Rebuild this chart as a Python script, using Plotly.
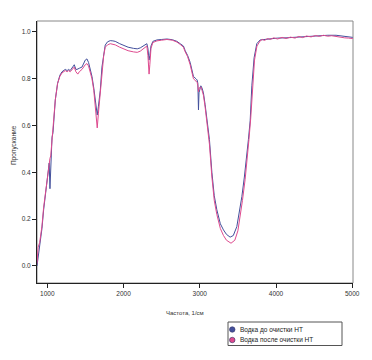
import plotly.graph_objects as go

# Wavenumber (1/cm) and transmittance values
wn_before = [865, 873, 900, 930, 952, 975, 996, 1017, 1025, 1035, 1045, 1062, 1075, 1083, 1105, 1135, 1165,
             1193, 1236, 1260, 1279, 1300, 1324, 1354, 1375, 1389, 1420, 1455, 1498, 1520, 1541, 1565,
             1586, 1610, 1629, 1645, 1655, 1670, 1695, 1717, 1740, 1760, 1790, 1826, 1860, 1891, 1950,
             1996, 2060, 2131, 2180, 2219, 2260, 2306, 2320, 2335, 2345, 2360, 2385, 2438, 2500, 2569,
             2640, 2700, 2743, 2786, 2809, 2840, 2874, 2917, 2950, 2965, 2975, 2983, 2990, 3014, 3030,
             3048, 3070, 3093, 3127, 3159, 3190, 3224, 3270, 3311, 3350, 3398, 3440, 3486, 3520, 3552,
             3585, 3617, 3638, 3661, 3683, 3713, 3748, 3792, 3850, 3923, 4020, 4132, 4250, 4350, 4460,
             4569, 4680, 4788, 4900, 5007]
t_before = [0.00, 0.02, 0.08, 0.16, 0.24, 0.30, 0.37, 0.42, 0.44, 0.33, 0.45, 0.55, 0.57, 0.62, 0.71, 0.78, 0.815,
            0.83, 0.84, 0.835, 0.84, 0.835, 0.845, 0.86, 0.84, 0.84, 0.845, 0.85, 0.88, 0.885, 0.87, 0.84,
            0.81, 0.76, 0.71, 0.655, 0.645, 0.68, 0.75, 0.85, 0.91, 0.944, 0.958, 0.963, 0.962, 0.96, 0.95,
            0.944, 0.935, 0.93, 0.928, 0.932, 0.94, 0.95, 0.93, 0.88, 0.90, 0.94, 0.96, 0.966, 0.968, 0.97,
            0.967, 0.96, 0.95, 0.94, 0.92, 0.90, 0.87, 0.81, 0.80, 0.795, 0.78, 0.667, 0.74, 0.77, 0.76,
            0.74, 0.69, 0.62, 0.54, 0.40, 0.30, 0.24, 0.18, 0.154, 0.135, 0.123, 0.13, 0.168, 0.23, 0.296,
            0.38, 0.467, 0.54, 0.62, 0.77, 0.89, 0.95, 0.966, 0.968, 0.973, 0.974, 0.975, 0.978, 0.98, 0.983,
            0.985, 0.986, 0.986, 0.982, 0.977]

wn_after = [865, 870, 875, 880, 900, 930, 952, 975, 996, 1017, 1035, 1045, 1062, 1075, 1083, 1105, 1135, 1165,
            1193, 1236, 1260, 1279, 1300, 1324, 1354, 1375, 1389, 1400, 1420, 1455, 1498, 1520, 1541, 1565,
            1586, 1610, 1629, 1645, 1655, 1670, 1695, 1717, 1740, 1760, 1790, 1826, 1860, 1891, 1950,
            1996, 2060, 2131, 2180, 2219, 2260, 2306, 2320, 2335, 2345, 2360, 2385, 2438, 2500, 2569,
            2640, 2700, 2743, 2786, 2809, 2840, 2874, 2917, 2950, 2965, 2975, 2983, 2990, 3014, 3030,
            3048, 3070, 3093, 3127, 3159, 3190, 3224, 3270, 3311, 3350, 3410, 3460, 3500, 3530, 3560,
            3595, 3625, 3645, 3668, 3690, 3718, 3750, 3792, 3820, 3850, 3890, 3923, 3970, 4020, 4080, 4132,
            4190, 4250, 4300, 4350, 4400, 4460, 4520, 4569, 4620, 4680, 4730, 4788, 4840, 4900, 4950, 5007]
t_after = [0.01, 0.07, 0.05, 0.08, 0.10, 0.17, 0.25, 0.31, 0.38, 0.43, 0.46, 0.47, 0.54, 0.57, 0.62, 0.71, 0.78, 0.81,
           0.825, 0.835, 0.83, 0.835, 0.83, 0.84, 0.85, 0.83, 0.825, 0.82, 0.83, 0.84, 0.86, 0.865, 0.855, 0.83,
           0.80, 0.75, 0.69, 0.61, 0.59, 0.65, 0.74, 0.84, 0.90, 0.935, 0.945, 0.95, 0.948, 0.945, 0.935,
           0.928, 0.92, 0.915, 0.913, 0.918, 0.928, 0.94, 0.90, 0.82, 0.86, 0.93, 0.955, 0.962, 0.965, 0.968,
           0.965, 0.957, 0.947, 0.935, 0.915, 0.895, 0.86, 0.80, 0.79, 0.785, 0.77, 0.745, 0.76, 0.765, 0.75,
           0.73, 0.68, 0.61, 0.52, 0.38, 0.28, 0.22, 0.16, 0.13, 0.11, 0.097, 0.11, 0.15, 0.21, 0.28,
           0.37, 0.46, 0.54, 0.63, 0.76, 0.88, 0.94, 0.962, 0.968, 0.964, 0.972, 0.968, 0.975, 0.97, 0.977, 0.972,
           0.978, 0.974, 0.981, 0.976, 0.983, 0.979, 0.985, 0.981, 0.986, 0.982, 0.984, 0.98, 0.978, 0.975, 0.974, 0.972]

series_names = ["Водка до очистки НТ", "Водка после очистки НТ"]
series_colors = ["#43509c", "#de4a8e"]
x_ticks = [1000, 2000, 3000, 4000, 5000]
y_ticks = [0.0, 0.2, 0.4, 0.6, 0.8, 1.0]
x_title = "Частота, 1/см"
y_title = "Пропускание"

# page body adds an 8px offset; compensate so the plot lands where the reference has it
OFF = 8
W, H = 372 - OFF, 360 - OFF
ML, MR, MT, MB = 37 - OFF, 19, 21 - OFF, 77
PW, PH = W - ML - MR, H - MT - MB


def px(xp):
    return (xp - OFF - ML) / PW


def py(yp):
    return (H - MB - (yp - OFF)) / PH


fig = go.Figure()
fig.add_trace(go.Scatter(x=wn_before, y=t_before, mode="lines", name=series_names[0],
                         line=dict(color=series_colors[0], width=1), showlegend=False))
fig.add_trace(go.Scatter(x=wn_after, y=t_after, mode="lines", name=series_names[1],
                         line=dict(color=series_colors[1], width=1), showlegend=False))

font = "Liberation Sans, Arial, sans-serif"

# legend drawn as shapes + text for exact placement
shapes = [dict(type="rect", xref="paper", yref="paper", x0=0, y0=0, x1=1, y1=1,
               line=dict(color="#888888", width=1), layer="below"),
          dict(type="rect", xref="paper", yref="paper", x0=px(228), y0=py(322), x1=px(342), y1=py(345.5),
               line=dict(color="#555555", width=1), fillcolor="white")]
annotations = [
    dict(text=x_title, xref="paper", yref="paper", x=px(184.5), y=py(313), showarrow=False,
         xanchor="center", yanchor="middle", font=dict(family=font, size=6, color="#333333")),
    dict(text=y_title, xref="paper", yref="paper", x=px(14), y=py(145), showarrow=False,
         textangle=-90, xanchor="center", yanchor="middle", font=dict(family=font, size=6.5, color="#333333")),
]
for i, (name, col) in enumerate(zip(series_names, series_colors)):
    cy = 329.5 + i * 10.5
    shapes.append(dict(type="circle", xref="paper", yref="paper",
                       x0=px(229.5), x1=px(235), y0=py(cy + 2.75), y1=py(cy - 2.75),
                       fillcolor=col, line=dict(color="#333366", width=0.6)))
    annotations.append(dict(text=name, xref="paper", yref="paper", x=px(238), y=py(cy),
                            showarrow=False, xanchor="left", yanchor="middle",
                            font=dict(family=font, size=6.5, color="#222222")))

fig.update_layout(
    template="none",
    width=W, height=H,
    margin=dict(l=ML, r=MR, t=MT, b=MB, pad=0),
    paper_bgcolor="white", plot_bgcolor="white",
    font=dict(family=font, size=7, color="#333333"),
    showlegend=False,
    xaxis=dict(range=[865, 5010], tickvals=x_ticks, ticks="outside", ticklen=4, tickwidth=1,
               tickcolor="#222222", showline=True, linecolor="#222222", linewidth=1, automargin=False,
               showgrid=False, zeroline=False, tickfont=dict(family=font, size=6.5, color="#333333")),
    yaxis=dict(range=[-0.073, 1.047], tickvals=y_ticks, tickformat=".1f", ticks="outside",
               ticklen=4, tickwidth=1, tickcolor="#222222", showline=True, linecolor="#222222",
               linewidth=1, showgrid=False, zeroline=False, automargin=False,
               tickfont=dict(family=font, size=6.5, color="#333333")),
    shapes=shapes,
    annotations=annotations,
)
fig.write_html("out.html")
